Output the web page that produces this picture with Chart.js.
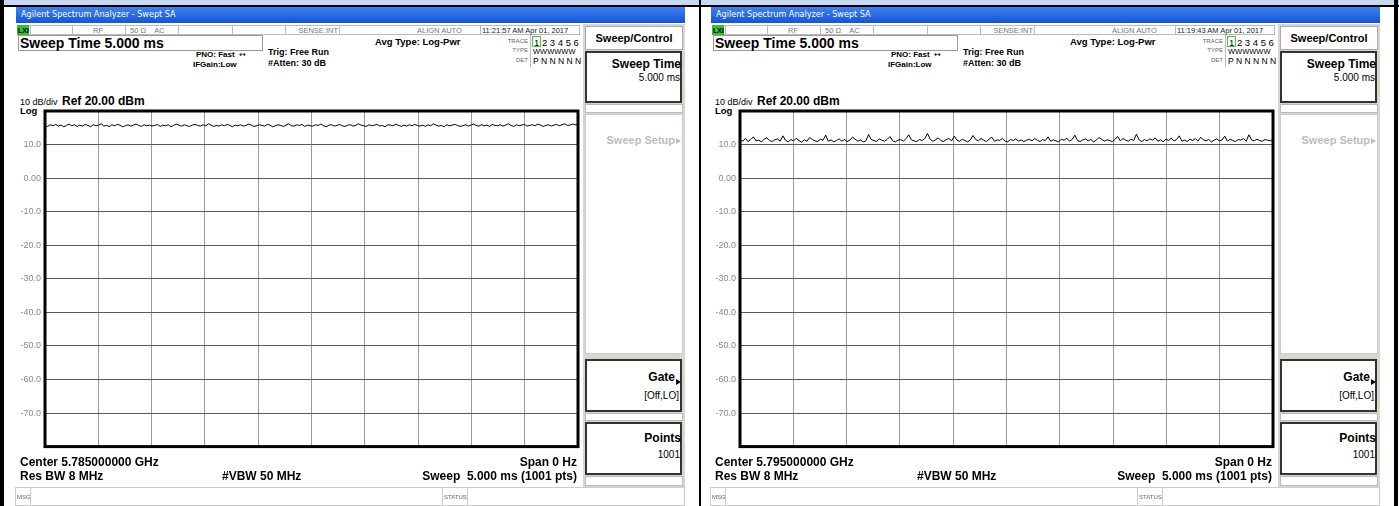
<!DOCTYPE html>
<html>
<head>
<meta charset="utf-8">
<script src="https://cdn.jsdelivr.net/npm/chart.js@4/dist/chart.umd.min.js"></script>
<style>
  html, body { margin: 0; padding: 0; background: #fff; }
  #page { position: relative; width: 1399px; height: 506px; overflow: hidden; background: #fff; }
  .a { position: absolute; white-space: pre; line-height: 1; font-family: "Liberation Sans", Arial, sans-serif; color: #000; }
  .b { font-weight: bold; }
  .box { position: absolute; box-sizing: border-box; background: #fff; }
  .r { text-align: right; }
  .tri { position: absolute; width: 0; height: 0; border-top: 3px solid transparent; border-bottom: 3px solid transparent; border-left: 5px solid #000; }
</style>
</head>
<body>
<div id="page"></div>
<script>
// trace readings, dBm (left to right)
const leftTrace = [
  15.7,15.4,15.9,15.6,16.0,15.5,15.8,15.3,15.7,16.1,15.6,15.9,15.4,15.8,15.5,16.0,15.7,15.3,15.9,15.6,
  15.8,16.2,15.5,15.7,15.4,15.9,15.6,16.0,15.8,15.3,15.6,15.9,15.5,15.8,16.1,15.7,15.4,15.9,15.6,15.8,
  15.5,15.7,16.0,15.4,15.8,15.6,15.9,15.3,15.7,16.1,15.8,15.5,15.9,15.6,15.4,15.8,16.0,15.7,15.5,15.9,
  15.6,16.2,15.8,15.4,15.7,15.5,15.9,15.6,16.0,15.7,15.3,15.8,15.6,15.9,15.5,15.7,16.1,15.8,15.4,15.6,
  15.9,15.7,15.5,16.0,15.8,15.3,15.6,15.9,15.7,15.4,15.8,16.2,15.6,15.5,15.9,15.7,16.0,15.4,15.8,15.6,
  15.5,15.9,15.7,16.1,15.6,15.3,15.8,15.9,15.5,15.7,16.0,15.6,15.4,15.8,15.9,15.5,15.7,16.2,15.8,15.6,
  15.4,15.9,15.6,15.8,16.0,15.5,15.7,15.3,15.9,15.8,15.6,16.1,15.7,15.4,15.8,15.5,15.9,15.6,16.0,15.7,
  15.5,15.8,15.4,15.9,15.6,16.2,15.8,15.5,15.7,15.3,15.9,15.6,15.8,16.0,15.7,15.4,15.6,15.9,15.5,15.8,
  16.1,15.7,15.5,15.9,15.6,15.8,15.4,16.0,15.7,15.6,15.9,15.5,15.8,16.2,15.7,15.4,15.9,15.6,15.8,16.0,
  15.5,15.7,15.9,15.6,16.1,15.8,15.4,15.7,15.9,15.5,15.8,16.0,15.6,15.9,16.2,15.7,15.8,16.1,15.9,16.0
];
const rightTrace = [
  11.4,11.0,11.8,10.9,11.5,12.3,11.1,11.3,10.8,11.6,12.0,11.2,10.9,11.4,11.7,11.0,12.6,11.3,10.8,11.5,
  11.1,11.9,11.2,10.7,11.4,11.0,12.1,11.5,11.1,10.9,11.6,11.3,12.8,11.0,11.4,10.8,11.2,11.7,11.0,11.5,
  10.9,11.3,12.2,11.6,11.0,11.4,10.8,11.1,13.0,11.5,11.2,10.9,11.7,11.3,11.0,11.6,12.4,11.1,10.8,11.3,
  11.5,11.0,11.8,12.9,11.4,11.1,10.9,11.5,11.2,11.8,13.3,11.6,11.0,11.4,12.0,11.2,10.9,11.5,11.8,11.1,
  12.5,11.3,11.0,11.6,11.2,10.8,11.4,12.7,11.5,11.1,11.8,11.3,10.9,11.6,12.2,11.0,11.4,11.2,11.9,11.0,
  10.8,11.5,11.2,11.7,11.0,11.4,10.9,11.3,11.6,11.1,11.8,11.3,10.9,11.5,11.2,12.3,11.0,11.4,11.1,10.8,
  11.6,11.3,11.9,11.0,11.5,12.8,11.2,10.9,11.4,11.7,11.1,11.5,10.8,11.3,12.1,11.6,11.0,11.4,11.2,10.9,
  11.5,12.4,11.1,11.8,11.3,11.0,11.6,11.2,13.1,11.4,10.9,11.5,11.1,11.7,11.3,12.0,11.0,11.4,10.8,11.6,
  11.2,11.9,11.1,11.5,12.6,11.0,11.3,10.9,11.6,11.2,11.8,11.0,12.2,11.4,11.1,11.5,10.8,11.3,11.7,11.1,
  11.4,12.5,11.0,11.6,11.2,10.9,11.5,11.3,11.8,11.0,12.9,11.4,11.1,11.6,11.2,11.0,11.5,11.3,11.1,11.4
];

const yTickValues = [20, 10, 0, -10, -20, -30, -40, -50, -60, -70, -80];
const yTickLabels = ['', '10.0', '0.00', '-10.0', '-20.0', '-30.0', '-40.0', '-50.0', '-60.0', '-70.0', ''];

const centerFreqs = ['5.785000000 GHz', '5.795000000 GHz'];
const timeStamps = ['11:21:57 AM Apr 01, 2017', '11:19:43 AM Apr 01, 2017'];
const sweepMs = 5;

function t(x, y, size, text, extra) {
  return '<div class="a ' + (extra || '') + '" style="left:' + x + 'px;top:' + y + 'px;font-size:' + size + 'px;">' + text + '</div>';
}
function tr(right, y, size, text, extra, color) {
  return '<div class="a r ' + (extra || '') + '" style="left:' + (right - 300) + 'px;width:300px;top:' + y + 'px;font-size:' + size + 'px;' + (color ? 'color:' + color + ';' : '') + '">' + text + '</div>';
}
function box(x, y, w, h, border, bg) {
  return '<div class="box" style="left:' + x + 'px;top:' + y + 'px;width:' + w + 'px;height:' + h + 'px;border:' + border + ';' + (bg ? 'background:' + bg + ';' : '') + '"></div>';
}

function panelHtml(ox, idx) {
  let h = '<div style="position:absolute;left:' + ox + 'px;top:0;width:700px;height:506px;">';
  // title bar
  h += '<div class="box" style="left:16px;top:7px;width:669px;height:16px;background:linear-gradient(#3d83f2,#1553d8);"></div>';
  h += '<div class="a" style="left:21px;top:10px;font-size:9px;color:#fff;font-family:\'DejaVu Sans Condensed\',\'Liberation Sans\',sans-serif;">Agilent Spectrum Analyzer - Swept SA</div>';
  // status row
  h += box(17, 25, 563, 10, '1px solid #bbb', '#fff');
  [30, 72, 125, 178, 232, 285, 339, 480].forEach(function (x) {
    h += '<div class="box" style="left:' + x + 'px;top:25px;width:1px;height:10px;background:#bbb;"></div>';
  });
  h += '<div class="box" style="left:17px;top:25px;width:12px;height:10px;background:#2fc22f;"></div>';
  h += t(18, 27, 7, 'LXI', 'b');
  h += t(93, 27, 7.5, '<span style="color:#777">RF</span>');
  h += t(130, 27, 7.5, '<span style="color:#777">50 Ω    AC</span>');
  h += tr(338, 27, 7.5, 'SENSE:INT', '', '#777');
  h += t(417, 27, 7.5, '<span style="color:#777">ALIGN AUTO</span>');
  h += t(482, 27, 7.5, '<span style="color:#222">' + timeStamps[idx] + '</span>');
  // active function box
  h += box(18, 35, 245, 16, '1px solid #999', '#fff');
  h += t(20, 36, 14, 'Sweep Time 5.000 ms', 'b');
  h += t(196, 51, 8, 'PNO: Fast  <span style="font-family:\'DejaVu Sans\';font-weight:normal">↔</span>', 'b');
  h += t(193, 61, 8, 'IFGain:Low', 'b');
  h += t(268, 48, 9, 'Trig: Free Run', 'b');
  h += t(268, 59, 9, '#Atten: 30 dB', 'b');
  h += t(375, 37, 9.5, 'Avg Type: Log-Pwr', 'b');
  // trace block
  h += tr(528, 38, 6, 'TRACE', '', '#666');
  h += tr(528, 47, 6, 'TYPE', '', '#666');
  h += tr(528, 57, 6, 'DET', '', '#666');
  h += box(530, 35, 1, 32, 'none', '#bbb');
  h += box(532, 36, 9, 11, '1px solid #4c4', null);
  h += t(534, 38, 9.5, '1 2 3 4 5 6');
  h += t(533, 48, 7.5, 'WWWWWW');
  h += t(533, 57, 8.5, 'P N N N N N');
  // softkeys
  h += box(583, 24, 102, 464, 'none', '#d9d6cd');
  h += box(585, 26, 98, 24, '1px solid #aaa', '#fff');
  h += '<div class="a b" style="left:585px;width:98px;text-align:center;top:33px;font-size:11px;">Sweep/Control</div>';
  h += box(585, 51, 97, 52, '2px solid #333', '#fff');
  h += tr(681, 58, 12, 'Sweep Time', 'b');
  h += tr(680, 73, 10, '5.000 ms');
  h += box(585, 104, 98, 9, '1px solid #bbb', '#fff');
  h += box(585, 114, 98, 240, '1px solid #ccc', '#fff');
  h += tr(675, 135, 11, 'Sweep Setup', 'b', '#bcbcbc');
  h += '<div class="tri" style="left:676px;top:138px;border-left-color:#bcbcbc;"></div>';
  h += box(585, 359, 97, 53, '2px solid #333', '#fff');
  h += tr(675, 371, 12, 'Gate', 'b');
  h += '<div class="tri" style="left:676px;top:379px;"></div>';
  h += tr(679, 391, 10, '[Off,LO]');
  h += box(585, 413, 98, 8, '1px solid #bbb', '#fff');
  h += box(585, 422, 97, 53, '2px solid #333', '#fff');
  h += tr(681, 432, 12, 'Points', 'b');
  h += tr(680, 450, 10, '1001');
  h += box(585, 476, 98, 10, '1px solid #bbb', '#fff');
  // graticule headings
  h += t(20, 98, 9, '10 dB/div');
  h += t(20, 106, 9.5, 'Log', 'b');
  h += t(62, 95, 12, 'Ref 20.00 dBm', 'b');
  // chart
  h += '<div style="position:absolute;left:4px;top:100px;width:578px;height:356px;"><canvas id="c' + idx + '"></canvas></div>';
  // footer
  h += t(20, 456, 12, 'Center ' + centerFreqs[idx], 'b');
  h += tr(577, 456, 12, 'Span 0 Hz', 'b');
  h += t(20, 470, 12, 'Res BW 8 MHz', 'b');
  h += t(222, 470, 12, '#VBW 50 MHz', 'b');
  h += tr(577, 470, 12, 'Sweep  5.000 ms (1001 pts)', 'b');
  // message bar
  h += box(15, 487, 670, 19, '1px solid #ccc', '#fff');
  h += box(30, 487, 1, 19, 'none', '#ccc');
  h += box(442, 487, 1, 19, 'none', '#ccc');
  h += box(467, 487, 1, 19, 'none', '#ccc');
  h += t(17, 494, 6, '<span style="color:#666">MSG</span>');
  h += t(444, 494, 6, '<span style="color:#666">STATUS</span>');
  h += '</div>';
  return h;
}

const page = document.getElementById('page');
let html = '';
// outer table frame
html += '<div class="box" style="left:0;top:0;width:1399px;height:5px;background:#c6d9f1;"></div>';
html += '<div class="box" style="left:0;top:5px;width:1399px;height:2px;background:#000;"></div>';
html += panelHtml(0, 0);
html += panelHtml(695, 1);
html += '<div class="box" style="left:0;top:0;width:4px;height:506px;background:#000;"></div>';
html += '<div class="box" style="left:699px;top:0;width:2px;height:506px;background:#000;"></div>';
html += '<div class="box" style="left:1394px;top:0;width:4px;height:506px;background:#000;"></div>';
page.innerHTML = html;

const framePlugin = {
  id: 'frame',
  afterDraw: function (chart) {
    const a = chart.chartArea;
    const ctx = chart.ctx;
    ctx.save();
    ctx.strokeStyle = '#000';
    ctx.lineWidth = 3;
    ctx.strokeRect(a.left, a.top, a.right - a.left, a.bottom - a.top);
    ctx.restore();
  }
};

function makeChart(id, trace) {
  const pts = trace.map(function (v, i) {
    return { x: i * sweepMs / (trace.length - 1), y: v };
  });
  return new Chart(document.getElementById(id).getContext('2d'), {
    type: 'line',
    data: {
      datasets: [{
        data: pts,
        borderColor: '#000',
        borderWidth: 1,
        pointRadius: 0,
        tension: 0,
        fill: false
      }]
    },
    options: {
      responsive: true,
      maintainAspectRatio: false,
      animation: false,
      layout: { padding: { top: 11, right: 4, bottom: 5, left: 0 } },
      plugins: { legend: { display: false }, tooltip: { enabled: false } },
      scales: {
        x: {
          type: 'linear',
          min: 0,
          max: sweepMs,
          ticks: { display: false, stepSize: sweepMs / 10 },
          grid: { color: '#9a9a9a', lineWidth: 1, drawTicks: false },
          border: { display: false },
          afterFit: function (s) { s.height = 0; }
        },
        y: {
          min: -80,
          max: 20,
          afterBuildTicks: function (s) {
            s.ticks = yTickValues.map(function (v) { return { value: v }; });
          },
          ticks: {
            color: '#8a8a8a',
            padding: 4,
            font: { family: 'Liberation Sans', size: 9 },
            callback: function (v) {
              const k = yTickValues.indexOf(v);
              return k >= 0 ? yTickLabels[k] : '';
            }
          },
          grid: { color: '#5a5a5a', lineWidth: 1, drawTicks: false },
          border: { display: false },
          afterFit: function (s) { s.width = 41; }
        }
      }
    },
    plugins: [framePlugin]
  });
}

makeChart('c0', leftTrace);
makeChart('c1', rightTrace);
</script>
</body>
</html>
